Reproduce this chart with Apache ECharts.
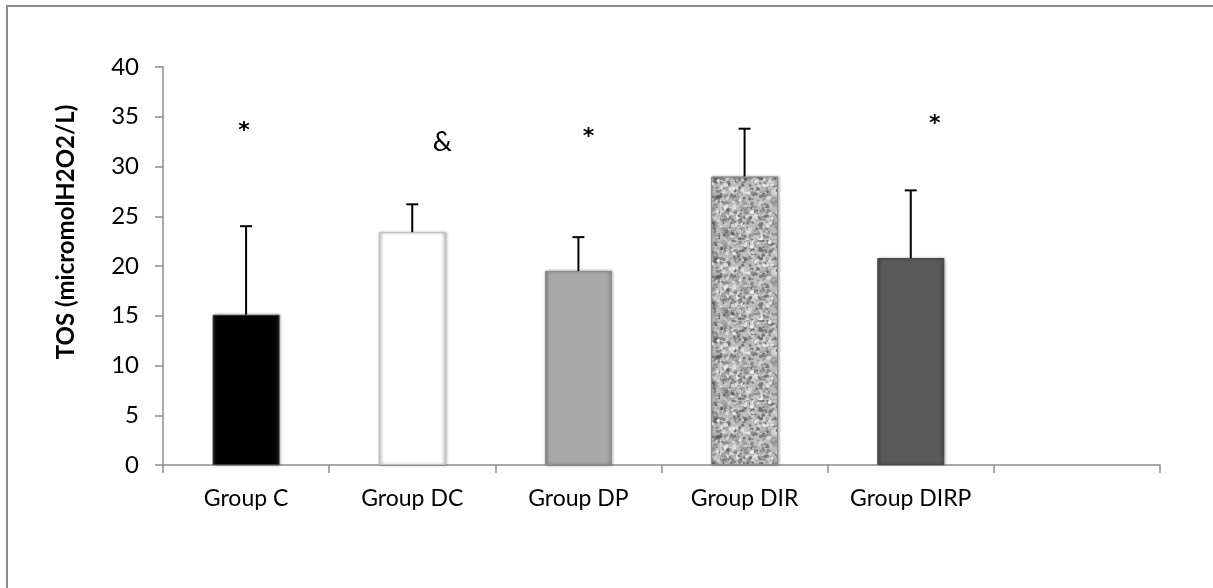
<!DOCTYPE html>
<html>
<head>
<meta charset="utf-8">
<script src="https://cdn.jsdelivr.net/npm/echarts@6/dist/echarts.min.js"></script>
<style>html,body{margin:0;padding:0;background:#fff}#c{width:1213px;height:588px}</style>
</head>
<body>
<div id="c"></div>
<script>
var categories = ['Group C', 'Group DC', 'Group DP', 'Group DIR', 'Group DIRP', ''];
var means = [15.1, 23.4, 19.5, 29.0, 20.8];
var sds = [8.9, 2.8, 3.4, 4.8, 6.8];
var yTicks = [0, 5, 10, 15, 20, 25, 30, 35, 40];
var annotText = ['*', '&', '*', '', '*'];
var annotY = [33.5, 32.4, 32.9, null, 34.2];
var annotDx = [-2, 30, 10, 0, 24];

// speckled texture for Group DIR (deterministic)
function makeTexture() {
  var cv = document.createElement('canvas');
  cv.width = 80; cv.height = 80;
  var ctx = cv.getContext('2d');
  ctx.fillStyle = '#bdbdbd';
  ctx.fillRect(0, 0, 80, 80);
  var s = 12345;
  function rnd() { s = (s * 1103515245 + 12345) % 2147483648; return s / 2147483648; }
  for (var i = 0; i < 1400; i++) {
    var x = rnd() * 80, y = rnd() * 80, r = 0.6 + rnd() * 1.6;
    var g = Math.floor(80 + rnd() * 175);
    ctx.fillStyle = 'rgba(' + g + ',' + g + ',' + g + ',0.7)';
    ctx.beginPath(); ctx.arc(x, y, r, 0, Math.PI * 2); ctx.fill();
  }
  return cv;
}

function hGrad(edge, mid) {
  return {type: 'linear', x: 0, y: 0, x2: 1, y2: 0, colorStops: [
    {offset: 0, color: edge}, {offset: 0.08, color: mid}, {offset: 0.92, color: mid}, {offset: 1, color: edge}]};
}

var barStyles = [
  {color: hGrad('#1a1a1a', '#000000'), borderColor: '#3a3a3a'},
  {color: hGrad('#d9d9d9', '#ffffff'), borderColor: '#bfbfbf'},
  {color: hGrad('#8f8f8f', '#a8a8a8'), borderColor: '#8a8a8a'},
  {color: {image: makeTexture(), repeat: 'repeat'}, borderColor: '#8a8a8a'},
  {color: hGrad('#4a4a4a', '#5a5a5a'), borderColor: '#474747'}
];

var barData = means.map(function (v, i) {
  var st = barStyles[i];
  return {value: v, itemStyle: {color: st.color, borderColor: st.borderColor, borderWidth: 1,
    shadowBlur: 3, shadowColor: 'rgba(0,0,0,0.35)', shadowOffsetX: 1, shadowOffsetY: 0}};
});

var errData = means.map(function (v, i) { return [i, v, v + sds[i]]; });

var chart = echarts.init(document.getElementById('c'));
chart.setOption({
  animation: false,
  backgroundColor: '#fff',
  grid: {left: 163, right: 53, top: 67, bottom: 123, containLabel: false},
  graphic: [
    {type: 'rect', shape: {x: 7, y: 6, width: 1215, height: 600}, style: {fill: 'none', stroke: '#8c8c8c', lineWidth: 2}, silent: true},
    {type: 'text', x: 66, y: 232, rotation: Math.PI / 2,
      style: {text: 'TOS (micromolH2O2/L)', font: 'bold 24px Lato', fill: '#000', align: 'center', verticalAlign: 'middle'}}
  ],
  xAxis: {
    type: 'category', data: categories, boundaryGap: true,
    axisLine: {lineStyle: {color: '#8c8c8c', width: 1.5}},
    axisTick: {show: true, length: 8, lineStyle: {color: '#8c8c8c', width: 1.5}},
    axisLabel: {color: '#000', fontFamily: 'Lato', fontSize: 23, margin: 22, interval: 0}
  },
  yAxis: {
    type: 'value', min: yTicks[0], max: yTicks[yTicks.length - 1], interval: 5,
    axisLine: {show: true, lineStyle: {color: '#8c8c8c', width: 1.5}},
    axisTick: {show: true, length: 8, lineStyle: {color: '#8c8c8c', width: 1.5}},
    splitLine: {show: false},
    axisLabel: {color: '#000', fontFamily: 'Lato', fontSize: 24, margin: 24}
  },
  series: [
    {type: 'bar', data: barData, barWidth: 67, z: 2},
    {type: 'custom', z: 3, data: errData, encode: {x: 0, y: [1, 2]},
      renderItem: function (params, api) {
        var x = api.value(0);
        var p0 = api.coord([x, api.value(1)]);
        var p1 = api.coord([x, api.value(2)]);
        var hw = 6;
        return {type: 'group', children: [
          {type: 'line', shape: {x1: p0[0], y1: p0[1], x2: p1[0], y2: p1[1]}, style: {stroke: '#000', lineWidth: 2}},
          {type: 'line', shape: {x1: p1[0] - hw, y1: p1[1], x2: p1[0] + hw, y2: p1[1]}, style: {stroke: '#000', lineWidth: 2}}
        ]};
      }},
    {type: 'custom', z: 4, data: annotText.map(function (t, i) { return [i, annotY[i] == null ? 0 : annotY[i], i]; }),
      encode: {x: 0, y: 1},
      renderItem: function (params, api) {
        var i = api.value(2);
        var t = annotText[i];
        if (!t) return null;
        var p = api.coord([api.value(0), api.value(1)]);
        var star = t === '*';
        return {type: 'text', x: p[0] + annotDx[i], y: p[1],
          style: {text: t, fill: '#000', align: 'center', verticalAlign: 'middle',
            font: star ? 'bold 22px "DejaVu Sans"' : '27px Lato'}};
      }}
  ]
});
</script>
</body>
</html>
